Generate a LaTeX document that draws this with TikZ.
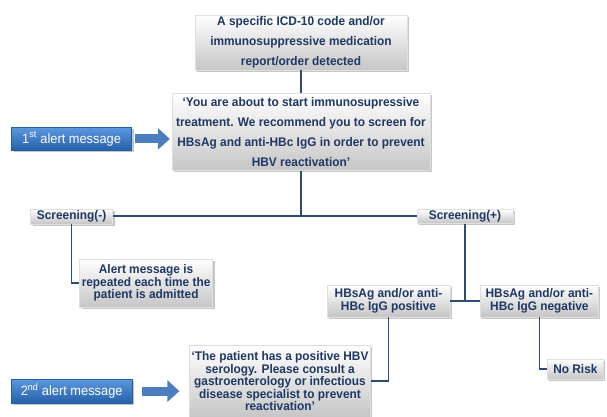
\documentclass[tikz,border=0pt]{standalone}
\usepackage{fontspec}
\setmainfont[FakeStretch=0.95]{Liberation Sans}
\usetikzlibrary{positioning,arrows.meta,shadows}
\definecolor{navy}{RGB}{31,56,100}
\definecolor{linkblue}{RGB}{44,74,124}
\definecolor{alerttop}{RGB}{92,152,222}
\definecolor{alertbot}{RGB}{36,96,170}
\definecolor{arrowblue}{RGB}{74,126,190}

\begin{document}
\begin{tikzpicture}[x=1pt,y=-1pt,
  node distance=20pt,
  gbox/.style={rectangle,draw=gray!25,top color=white,bottom color=gray!45,
    drop shadow={shadow xshift=2pt,shadow yshift=-2pt,opacity=0.45},
    text=navy,align=center,inner xsep=2pt,inner ysep=0pt},
  bigtxt/.style={font=\fontsize{12.5}{20}\selectfont\bfseries},
  smtxt/.style={font=\fontsize{12.5}{12.5}\selectfont\bfseries},
  abox/.style={rectangle,draw=alertbot,top color=alerttop,bottom color=alertbot,
    drop shadow={shadow xshift=2pt,shadow yshift=-2pt,opacity=0.45},
    text=white,font=\fontsize{13.5}{15}\selectfont,inner sep=0pt},
  link/.style={draw=linkblue,line width=1.7pt},
  blk/.style={draw=arrowblue,line width=9pt,-{Triangle[length=12pt,width=21pt]}}]
\useasboundingbox (0,0) rectangle (607,417);
\node[gbox,bigtxt,minimum width=212pt,minimum height=55pt] (det) at (301,42.5)
  {A specific ICD-10 code and/or\\immunosuppressive medication\\report/order detected};
\node[gbox,bigtxt,minimum width=258pt,minimum height=77pt,below=23pt of det] (rec)
  {‘You are about to start immunosupressive\\treatment. We recommend you to screen for\\HBsAg and anti-HBc IgG in order to prevent\\HBV reactivation’};
\node[abox,minimum width=120pt,minimum height=23pt,left=40pt of rec,yshift=-7pt] (alert1)
  {1\textsuperscript{st} alert message};
\node[gbox,smtxt,minimum width=82pt,minimum height=15pt,below=58pt of alert1] (scrneg) {Screening(-)};
\node[gbox,smtxt,minimum width=96pt,minimum height=14pt,right=304pt of scrneg] (scrpos) {Screening(+)};
\node[gbox,smtxt,minimum width=133pt,minimum height=48pt,below=35pt of scrneg,xshift=74.5pt] (rpt)
  {Alert message is\\repeated each time the\\patient is admitted};
\node[gbox,smtxt,minimum width=123pt,minimum height=32pt,below=61pt of scrpos,xshift=-76.5pt] (pos)
  {HBsAg and/or anti-\\HBc IgG positive};
\node[gbox,smtxt,minimum width=118pt,minimum height=32pt,right=30pt of pos] (neg)
  {HBsAg and/or anti-\\HBc IgG negative};
\node[gbox,smtxt,minimum width=56pt,minimum height=20pt,below=42pt of neg,xshift=36pt] (risk) {No Risk};
\node[gbox,smtxt,minimum width=180pt,minimum height=72pt,below=28pt of pos,xshift=-108.5pt] (rec2)
  {‘The patient has a positive HBV\\serology. Please consult a\\gastroenterology or infectious\\disease specialist to prevent\\reactivation’};
\node[abox,minimum width=121pt,minimum height=24pt,left=57pt of rec2,yshift=-10pt] (alert2)
  {2\textsuperscript{nd} alert message};
\draw[link] (det) -- (rec);
\draw[link] (rec) -- (rec |- scrneg);
\draw[link] (scrneg) -- (scrpos);
\draw[link] (scrneg) |- (rpt);
\draw[link] (scrpos) -- (scrpos |- pos);
\draw[link] (pos) -- (neg);
\draw[link] (pos) |- (rec2);
\draw[link] (neg) |- (risk);
\draw[blk,shorten <=3pt,shorten >=2pt] (alert1) -- (alert1 -| rec.west);
\draw[blk,shorten <=10pt,shorten >=10pt] (alert2) -- (alert2 -| rec2.west);
\end{tikzpicture}
\end{document}
